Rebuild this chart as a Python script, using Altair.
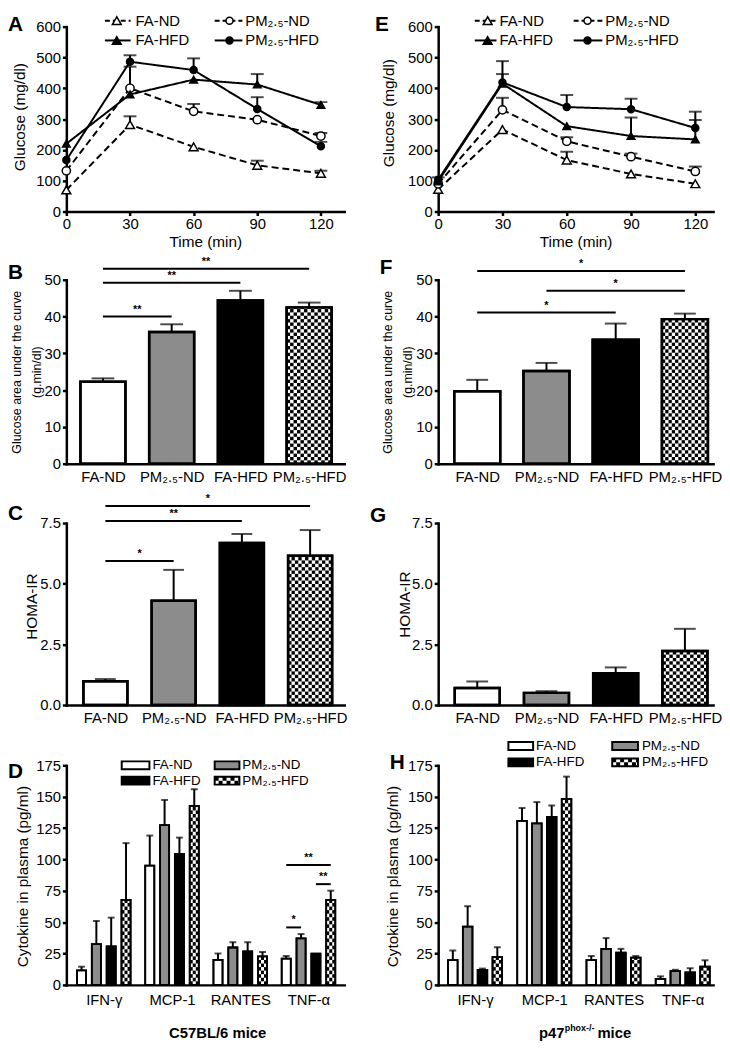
import json
import math
import altair as alt
import pandas as pd

FONT = "Liberation Sans"

# ---------------- data ----------------
time_min = [0, 30, 60, 90, 120]
groups = ["FA-ND", "PM₂.₅-ND", "FA-HFD", "PM₂.₅-HFD"]
cytokines = ["IFN-γ", "MCP-1", "RANTES", "TNF-α"]

# A: C57BL/6 glucose tolerance (mg/dl), mean and SEM
a_fa_nd = [70, 282, 210, 150, 124]
a_fa_nd_sem = [0, 27, 0, 15, 8]
a_pm_nd = [132, 400, 325, 298, 245]
a_pm_nd_sem = [0, 0, 24, 0, 10]
a_fa_hfd = [220, 380, 428, 412, 346]
a_fa_hfd_sem = [0, 90, 0, 34, 9]
a_pm_hfd = [167, 486, 459, 333, 212]
a_pm_hfd_sem = [0, 21, 38, 38, 14]

# E: p47phox-/- glucose tolerance (mg/dl)
e_fa_nd = [72, 266, 167, 122, 90]
e_fa_nd_sem = [0, 0, 27, 0, 0]
e_pm_nd = [90, 330, 228, 178, 130]
e_pm_nd_sem = [0, 39, 13, 10, 16]
e_fa_hfd = [98, 415, 277, 245, 234]
e_fa_hfd_sem = [0, 31, 0, 60, 63]
e_pm_hfd = [103, 419, 339, 332, 271]
e_pm_hfd_sem = [8, 69, 39, 34, 53]

# B / F: glucose area under the curve (g.min/dl)
b_auc = [22.3, 35.8, 44.4, 42.5]
b_auc_sem = [0.9, 2.1, 2.6, 1.3]
f_auc = [19.7, 25.2, 33.7, 39.3]
f_auc_sem = [3.1, 2.2, 4.4, 1.5]

# C / G: HOMA-IR
c_homa = [0.98, 4.30, 6.68, 6.15]
c_homa_sem = [0.09, 1.27, 0.37, 1.06]
g_homa = [0.70, 0.50, 1.31, 2.23]
g_homa_sem = [0.27, 0.07, 0.24, 0.91]

# D / H: cytokines in plasma (pg/ml), one list per group across cytokines
d_fa_nd = [11.5, 95, 20, 21]
d_fa_nd_sem = [3, 24, 5, 2]
d_pm_nd = [32.4, 127.4, 29.8, 37.1]
d_pm_nd_sem = [18.6, 20, 4.2, 3.4]
d_fa_hfd = [30.6, 104.4, 26.7, 24.8]
d_fa_hfd_sem = [23, 13, 7.3, 0]
d_pm_hfd = [67.7, 142.6, 22.8, 67.7]
d_pm_hfd_sem = [45.3, 13.4, 3.4, 7.4]

h_fa_nd = [19.8, 130.8, 19.8, 4.7]
h_fa_nd_sem = [7.6, 10.2, 3.2, 2.1]
h_pm_nd = [46.5, 128.8, 28.7, 11]
h_pm_nd_sem = [16.2, 16.9, 8.6, 1]
h_fa_hfd = [12, 134, 25.6, 9.9]
h_fa_hfd_sem = [1, 9, 3.1, 3.4]
h_pm_hfd = [22.2, 148.3, 21.7, 14.6]
h_pm_hfd_sem = [7.8, 17.7, 1.3, 5]

# significance brackets (group index from / to, height, label)
b_sig_from = [0, 0, 0]
b_sig_to = [1, 2, 3]
b_sig_y = [40, 49.2, 53]
b_sig_label = ["**", "**", "**"]

c_sig_from = [0, 0, 0]
c_sig_to = [1, 2, 3]
c_sig_y = [5.94, 7.58, 8.2]
c_sig_label = ["*", "**", "*"]

f_sig_from = [0, 1, 0]
f_sig_to = [2, 3, 3]
f_sig_y = [41.1, 47, 52.4]
f_sig_label = ["*", "*", "*"]

# D: brackets inside the TNF-α cluster (bar index from / to)
d_sig_cluster = [3, 3, 3]
d_sig_from = [0, 2, 0]
d_sig_to = [1, 3, 3]
d_sig_y = [45.8, 80.3, 95.5]
d_sig_label = ["*", "**", "**"]

# ---------------- helpers ----------------
FILLS = ["white", "#8c8c8c", "black", "white"]
LABEL_SIZE = 15
TITLE_SIZE = 15.5


def one():
    return alt.Chart(pd.DataFrame({"k": [0]}))


def txt(label, x, y, size=LABEL_SIZE, weight="normal", align="left", baseline="middle"):
    return one().mark_text(text=label, font=FONT, fontSize=size, fontWeight=weight,
                           align=align, baseline=baseline, color="black").encode(
        x=alt.value(x), y=alt.value(y))


def letter(ch, xy):
    return txt(ch, xy[0], xy[1], size=21, weight="bold", baseline="top")


def y_axis(ticks, title, tx, ty, fmt=None, lh=None, tsize=None):
    kw = dict(values=ticks, title=title, titleX=tx, titleY=ty, titleAngle=270,
              titleAlign="center", titleBaseline="middle", tickSize=4, labelPadding=2,
              grid=False)
    if fmt:
        kw["format"] = fmt
    if lh:
        kw["titleLineHeight"] = lh
    if tsize:
        kw["titleFontSize"] = tsize
    return alt.Axis(**kw)


def line_legend_item(col, row, dashed, shape, filled, label):
    x1, x2, xm, xt = col
    rk = dict(color="black", strokeWidth=2)
    if dashed:
        rk["strokeDash"] = [5, 3]
    ln = one().mark_rule(**rk).encode(x=alt.value(x1), x2=alt.value(x2), y=alt.value(row))
    mk = one().mark_point(shape=shape, filled=True, fill="black" if filled else "white",
                          stroke="black", strokeWidth=1.5,
                          size=80 if shape == "triangle-up" else 50, opacity=1).encode(
        x=alt.value(xm), y=alt.value(row))
    return [ln, mk, txt(label, xt, row)]


def line_panel(vals, sems, w, h, xmax, letter_ch, letter_xy, tx, ty, leg_cols, leg_rows):
    rows = []
    for g, vl, sl in zip(groups, vals, sems):
        for t, v, s in zip(time_min, vl, sl):
            rows.append({"group": g, "t": t, "v": v, "top": v + s, "sem": s})
    df = pd.DataFrame(rows)
    X = alt.X("t:Q", scale=alt.Scale(domain=[0, xmax], nice=False, zero=False),
              axis=alt.Axis(values=time_min, title="Time (min)", tickSize=4,
                            labelPadding=1, titlePadding=3, grid=False, labelFlush=False))
    yax = y_axis(list(range(0, 601, 100)), "Glucose (mg/dl)", tx, ty)
    ysc = alt.Scale(domain=[0, 600], nice=False)

    def Y(f):
        return alt.Y(f"{f}:Q", scale=ysc, axis=yax)

    dash = alt.StrokeDash("group:N", scale=alt.Scale(domain=groups,
                          range=[[7, 4], [7, 4], [1, 0], [1, 0]]), legend=None)
    base = alt.Chart(df)
    lines = base.mark_line(color="black", strokeWidth=2).encode(x=X, y=Y("v"), strokeDash=dash,
                                                                 detail="group:N")
    err = base.transform_filter("datum.sem > 0").mark_rule(color="black", strokeWidth=2).encode(
        x=X, y=Y("v"), y2=alt.Y2("top"))
    caps = base.transform_filter("datum.sem > 0").mark_tick(
        color="black", thickness=2, size=13, orient="horizontal").encode(x=X, y=Y("top"))
    pts = base.mark_point(filled=True, stroke="black", strokeWidth=1.5, opacity=1).encode(
        x=X, y=Y("v"),
        shape=alt.Shape("group:N", scale=alt.Scale(domain=groups,
                        range=["triangle-up", "circle", "triangle-up", "circle"]), legend=None),
        fill=alt.Fill("group:N", scale=alt.Scale(domain=groups,
                      range=["white", "white", "black", "black"]), legend=None),
        size=alt.Size("group:N", scale=alt.Scale(domain=groups, range=[80, 50, 80, 50]),
                      legend=None))
    layers = [lines, err, caps, pts]
    specs = [(0, 0, True, "triangle-up", False), (1, 0, True, "circle", False),
             (0, 1, False, "triangle-up", True), (1, 1, False, "circle", True)]
    for g, (c, r, d, sh, fl) in zip(groups, specs):
        layers += line_legend_item(leg_cols[c], leg_rows[r], d, sh, fl, g)
    layers.append(letter(letter_ch, letter_xy))
    return alt.layer(*layers).properties(width=w, height=h)


def bar_common(df, cdf, X, Y, sw, cap_px, sdf, star_size=11):
    fill = alt.Fill("group:N", scale=alt.Scale(domain=groups, range=FILLS), legend=None)
    bars = alt.Chart(df).mark_rect(stroke="black", strokeWidth=sw).encode(
        x=X("bx1"), x2=alt.X2("bx2"), y=Y("base"), y2=alt.Y2("v"), fill=fill)
    cells = alt.Chart(cdf).mark_rect(color="black").encode(
        x=X("cx1"), x2=alt.X2("cx2"), y=Y("cy1"), y2=alt.Y2("cy2"))
    outline = alt.Chart(df).mark_rect(stroke="black", strokeWidth=sw, fillOpacity=0).encode(
        x=X("bx1"), x2=alt.X2("bx2"), y=Y("base"), y2=alt.Y2("v"))
    err = alt.Chart(df).transform_filter("datum.sem > 0").mark_rule(
        color="black", strokeWidth=2).encode(x=X("pos"), y=Y("v"), y2=alt.Y2("top"))
    cap = alt.Chart(df).transform_filter("datum.sem > 0").mark_tick(
        color="black", thickness=2, size=cap_px, orient="horizontal").encode(x=X("pos"), y=Y("top"))
    layers = [bars, cells, outline, err, cap]
    if sdf is not None:
        layers.append(alt.Chart(sdf).mark_rule(color="black", strokeWidth=2).encode(
            x=X("sx1"), x2=alt.X2("sx2"), y=Y("sy")))
        layers.append(alt.Chart(sdf).mark_text(font=FONT, fontSize=star_size, fontWeight="bold",
                                               baseline="alphabetic", dy=-4, fill="black").encode(
            x=X("sxm"), y=Y("sy"), text="slab:N"))
    return layers


def checker_cells(df, ppx, ppy, cell_px):
    rows = []
    for _, r in df[df.group == groups[3]].iterrows():
        width_px = (r.bx2 - r.bx1) * ppx
        ncol = max(1, int(round(width_px / cell_px)))
        cw = (r.bx2 - r.bx1) / ncol
        ch = cell_px / ppy
        nrow = int(math.ceil(r.v / ch))
        for i in range(nrow):
            for j in range(ncol):
                if (i + j) % 2 == 0:
                    rows.append({"cx1": r.bx1 + j * cw, "cx2": r.bx1 + (j + 1) * cw,
                                 "cy1": i * ch, "cy2": min((i + 1) * ch, r.v)})
    return pd.DataFrame(rows)


def bar_panel(vals, sems, w, h, ymax, ticks, fmt, title, tx, ty, lh, tsize, p0, step, bar_px,
              cap_px, sig, letter_ch, letter_xy):
    sw = 2.5
    ppy = h / ymax
    half = (bar_px - sw) / 2 / step
    pos = list(range(len(groups)))
    df = pd.DataFrame({"group": groups, "pos": pos, "v": vals,
                       "top": [v + s for v, s in zip(vals, sems)], "sem": sems,
                       "bx1": [p - half for p in pos], "bx2": [p + half for p in pos],
                       "base": [0.0] * 4})
    cdf = checker_cells(df, step, ppy, 3.4)
    xax = alt.Axis(values=pos, labelExpr=json.dumps(groups, ensure_ascii=False) + "[datum.value]",
                   ticks=False, labelPadding=6, title=None, grid=False, labelOverlap=False,
                   labelFlush=False)
    xsc = alt.Scale(domain=[-p0 / step, (w - p0) / step], nice=False, zero=False)
    yax = y_axis(ticks, title, tx, ty, fmt, lh, tsize)
    ysc = alt.Scale(domain=[0, ymax], nice=False)

    def X(f):
        return alt.X(f"{f}:Q", scale=xsc, axis=xax)

    def Y(f):
        return alt.Y(f"{f}:Q", scale=ysc, axis=yax)

    sdf = None
    if sig is not None:
        fr, to, ys, lab = sig
        sdf = pd.DataFrame({"sx1": fr, "sx2": to, "sy": ys, "slab": lab,
                            "sxm": [(a + b) / 2 for a, b in zip(fr, to)]})
    layers = bar_common(df, cdf, X, Y, sw, cap_px, sdf)
    layers.append(letter(letter_ch, letter_xy))
    return alt.layer(*layers).properties(width=w, height=h)


def swatch(x1, x2, y, kind):
    hh = 4
    out = []
    if kind == 3:
        out.append(one().mark_rect(fill="white").encode(
            x=alt.value(x1), x2=alt.value(x2), y=alt.value(y - hh), y2=alt.value(y + hh)))
        out.append(one().mark_rule(color="black", strokeWidth=hh, strokeDash=[4, 4],
                                   strokeCap="butt").encode(
            x=alt.value(x1), x2=alt.value(x2), y=alt.value(y - hh / 2)))
        out.append(one().mark_rule(color="black", strokeWidth=hh, strokeDash=[4, 4],
                                   strokeDashOffset=4, strokeCap="butt").encode(
            x=alt.value(x1), x2=alt.value(x2), y=alt.value(y + hh / 2)))
        out.append(one().mark_rect(fillOpacity=0, stroke="black", strokeWidth=2).encode(
            x=alt.value(x1), x2=alt.value(x2), y=alt.value(y - hh), y2=alt.value(y + hh)))
    else:
        out.append(one().mark_rect(fill=FILLS[kind], stroke="black", strokeWidth=2).encode(
            x=alt.value(x1), x2=alt.value(x2), y=alt.value(y - hh), y2=alt.value(y + hh)))
    return out


def cyto_panel(series, sems, w, h, p0, step, sub_px, bar_px, tx, ty, leg_cols, leg_rows,
               sig, letter_ch, letter_xy, bottom_layers):
    sw = 1.8
    ymax = 175
    ppy = h / ymax
    sub = sub_px / step
    half = (bar_px - sw) / 2 / step
    rows = []
    for k, (g, vl, sl) in enumerate(zip(groups, series, sems)):
        for c, (v, s) in enumerate(zip(vl, sl)):
            p = c + (k - 1.5) * sub
            rows.append({"group": g, "pos": p, "v": v, "top": v + s, "sem": s,
                         "bx1": p - half, "bx2": p + half, "base": 0.0})
    df = pd.DataFrame(rows)
    cdf = checker_cells(df, step, ppy, 3.6)
    xax = alt.Axis(values=[0, 1, 2, 3],
                   labelExpr=json.dumps(cytokines, ensure_ascii=False) + "[datum.value]",
                   ticks=False, labelPadding=8, title=None, grid=False, labelOverlap=False,
                   labelFlush=False)
    xsc = alt.Scale(domain=[-p0 / step, (w - p0) / step], nice=False, zero=False)
    yax = y_axis(list(range(0, 176, 25)), "Cytokine in plasma (pg/ml)", tx, ty)
    ysc = alt.Scale(domain=[0, ymax], nice=False)

    def X(f):
        return alt.X(f"{f}:Q", scale=xsc, axis=xax)

    def Y(f):
        return alt.Y(f"{f}:Q", scale=ysc, axis=yax)

    sdf = None
    if sig is not None:
        cl, fr, to, ys, lab = sig
        x1 = [c + (a - 1.5) * sub for c, a in zip(cl, fr)]
        x2 = [c + (b - 1.5) * sub for c, b in zip(cl, to)]
        sdf = pd.DataFrame({"sx1": x1, "sx2": x2, "sy": ys, "slab": lab,
                            "sxm": [(a + b) / 2 for a, b in zip(x1, x2)]})
    layers = bar_common(df, cdf, X, Y, sw, 7, sdf)
    order = [(0, 0), (1, 0), (0, 1), (1, 1)]
    for k, (g, (c, r)) in enumerate(zip(groups, order)):
        x1, x2, xt = leg_cols[c]
        layers += swatch(x1, x2, leg_rows[r], k)
        layers.append(txt(g, xt, leg_rows[r], size=13.5))
    layers.append(letter(letter_ch, letter_xy))
    layers += bottom_layers
    return alt.layer(*layers).properties(width=w, height=h)


def spacer(hgt):
    return one().mark_point(opacity=0).encode(x=alt.value(0), y=alt.value(0)).properties(
        width=10, height=hgt)


# ---------------- panels ----------------
W1, W2 = 281, 278
AUC_TITLE = ["Glucose area under the curve", "(g.min/dl)"]

pA = line_panel([a_fa_nd, a_pm_nd, a_fa_hfd, a_pm_hfd],
                [a_fa_nd_sem, a_pm_nd_sem, a_fa_hfd_sem, a_pm_hfd_sem],
                W1, 187, 131, "A", (-59, -13), -47, 91,
                [(39, 65, 51, 70), (150, 178, 165, 181)], [-6, 14])
pE = line_panel([e_fa_nd, e_pm_nd, e_fa_hfd, e_pm_hfd],
                [e_fa_nd_sem, e_pm_nd_sem, e_fa_hfd_sem, e_pm_hfd_sem],
                W2, 187, 128.3, "E", (-64, -13), -50, 87,
                [(37, 59, 50, 62), (137, 166, 151, 169)], [-6, 14])

pB = bar_panel(b_auc, b_auc_sem, W1, 186, 50, [0, 10, 20, 30, 40, 50], None,
               AUC_TITLE, -50, 93, 20, 12.5,
               37, 69.5, 48, 23, (b_sig_from, b_sig_to, b_sig_y, b_sig_label), "B", (-59, -18))
pF = bar_panel(f_auc, f_auc_sem, W2, 186, 50, [0, 10, 20, 30, 40, 50], None,
               AUC_TITLE, -51, 93, 20, 12.5,
               39.5, 70, 49, 22, (f_sig_from, f_sig_to, f_sig_y, f_sig_label), "F", (-59, -23))

pC = bar_panel(c_homa, c_homa_sem, W1, 184, 7.5, [0, 2.5, 5, 7.5], ".1f", "HOMA-IR",
               -35, 84, None, None, 39.5, 69, 47, 21,
               (c_sig_from, c_sig_to, c_sig_y, c_sig_label), "C", (-59, -20))
pG = bar_panel(g_homa, g_homa_sem, W2, 184, 7.5, [0, 2.5, 5, 7.5], ".1f", "HOMA-IR",
               -34, 82, None, None, 39.5, 70, 48, 22, None, "G", (-69, -18))

d_bottom = [txt("C57BL/6 mice", 153, 271, size=15, weight="bold", align="center")]
h_bottom = [txt("p47", 102, 271, size=15, weight="bold"),
            txt("phox-/-", 128, 266, size=9, weight="bold"),
            txt("mice", 161, 271, size=15, weight="bold")]

pD = cyto_panel([d_fa_nd, d_pm_nd, d_fa_hfd, d_pm_hfd],
                [d_fa_nd_sem, d_pm_nd_sem, d_fa_hfd_sem, d_pm_hfd_sem],
                W1, 222, 37.85, 69, 15, 11, -44, 112,
                [(56, 84, 87), (150, 175, 178)], [0, 15.5],
                (d_sig_cluster, d_sig_from, d_sig_to, d_sig_y, d_sig_label), "D", (-59, -4),
                d_bottom)
pH = cyto_panel([h_fa_nd, h_pm_nd, h_fa_hfd, h_pm_hfd],
                [h_fa_nd_sem, h_pm_nd_sem, h_fa_hfd_sem, h_pm_hfd_sem],
                W2, 222, 37.3, 70, 15, 11.5, -46, 112,
                [(71, 96, 99), (176, 202, 206)], [-19.5, -3],
                None, "H", (-49, -13), h_bottom)

chart = alt.concat(
    pA, pE,
    spacer(69), spacer(69),
    pB, pF,
    spacer(60), spacer(60),
    pC, pG,
    spacer(61), spacer(61),
    pD, pH,
    columns=2, spacing={"row": 0, "column": 95}, bounds="flush", align="each",
).resolve_scale(
    fill="independent", shape="independent", size="independent", strokeDash="independent"
).properties(padding=0, background="white").configure_view(stroke=None).configure_axis(
    domainColor="black", domainWidth=2.5, domainCap="square", tickColor="black", tickWidth=2.5,
    labelColor="black", titleColor="black", labelFont=FONT, titleFont=FONT,
    labelFontSize=LABEL_SIZE, titleFontSize=TITLE_SIZE, titleFontWeight="normal", grid=False)

chart.save("out.html", embed_options={"renderer": "svg", "actions": False})
